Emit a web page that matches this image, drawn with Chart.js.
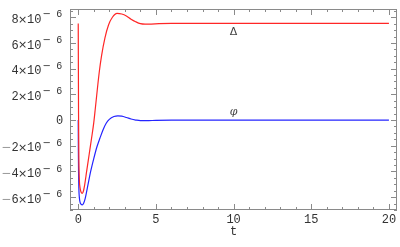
<!DOCTYPE html>
<html>
<head>
<meta charset="utf-8">
<script src="https://cdn.jsdelivr.net/npm/chart.js@4"></script>
<style>
html,body{margin:0;padding:0;background:#fff;}
#wrap{width:400px;height:247px;}
</style>
</head>
<body>
<div id="wrap"><canvas id="chart" width="400" height="247"></canvas></div>
<script>
// values are in units of 10^-6
const tDelta = [0,0.01,0.02,0.04,0.07,0.12,0.18,0.26,0.34,0.42,0.54,0.7,0.86,1.0,1.1,1.35,1.5,1.72,1.95,2.2,2.5,2.8,3.1,3.4,3.7,4.0,4.3,4.7,5.2,6,8,12,20];
const delta = [7.52,4.0,0.5,-3.0,-4.6,-5.3,-5.6,-5.7,-5.5,-5.0,-4.0,-2.7,-1.4,-0.2,0.9,3.7,5.0,6.4,7.4,8.0,8.3,8.25,8.1,7.85,7.65,7.5,7.46,7.47,7.5,7.52,7.52,7.52,7.52];

const tPhi = [0,0.01,0.02,0.04,0.07,0.12,0.18,0.26,0.34,0.45,0.6,0.8,1.0,1.2,1.4,1.6,1.8,2.0,2.3,2.55,2.8,3.1,3.4,3.7,4.0,4.4,5.0,6,8,12,20];
const phi = [0,-2.5,-4.0,-5.3,-6.0,-6.4,-6.55,-6.6,-6.5,-6.1,-5.2,-4.0,-3.0,-2.1,-1.4,-0.75,-0.25,0.05,0.27,0.33,0.3,0.2,0.08,0.0,-0.05,-0.05,-0.02,0,0,0,0];

const xTicks = [0,5,10,15,20];
const yTicks = [-6,-4,-2,0,2,4,6,8];
const seriesNames = ["Δ","φ"];
const seriesColors = ["#ff2626","#2424ff"];
const axisTitle = "t";

const labelSpots = [[10,6.87],[10,0.65]];

const frame = {
    id:"frame",
    afterDraw(chart){
        const ctx = chart.ctx;
        const a = chart.chartArea;
        const xs = chart.scales.x;
        const ys = chart.scales.y;

        ctx.save();
        ctx.strokeStyle = "#8a8a8a";
        ctx.lineWidth = 1;
        ctx.strokeRect(a.left+0.5, a.top+0.5, a.right-a.left-1, a.bottom-a.top-1);

        ctx.beginPath();
        for(let v = 0; v <= 20; v++){
            const len = xTicks.includes(v) ? 6 : 3;
            const px = Math.round(xs.getPixelForValue(v))+0.5;
            ctx.moveTo(px, a.bottom);
            ctx.lineTo(px, a.bottom-len);
            ctx.moveTo(px, a.top);
            ctx.lineTo(px, a.top+len);
        }
        for(let k = -14; k <= 17; k++){
            const v = k/2;
            const len = yTicks.includes(v) ? 6 : 3;
            const py = Math.round(ys.getPixelForValue(v))+0.5;
            ctx.moveTo(a.left, py);
            ctx.lineTo(a.left+len, py);
            ctx.moveTo(a.right, py);
            ctx.lineTo(a.right-len, py);
        }
        ctx.stroke();

        ctx.fillStyle = "#333";
        ctx.textBaseline = "middle";
        ctx.textAlign = "center";
        ctx.font = "12px 'Liberation Mono'";
        xTicks.forEach(v => {
            ctx.fillText(String(v), xs.getPixelForValue(v), 220);
        });
        ctx.fillText(axisTitle, xs.getPixelForValue(10), 231.5);

        yTicks.forEach(v => {
            const py = ys.getPixelForValue(v);
            if(v === 0){
                ctx.font = "12px 'Liberation Mono'";
                ctx.fillText("0", 59.5, py+0.5);
                return;
            }
            const my = py+2.5;
            if(v < 0){
                ctx.fillStyle = "#999";
                ctx.font = "12px 'DejaVu Sans'";
                ctx.fillText("−", 6.3, my);
                ctx.fillStyle = "#333";
            }
            ctx.font = "12px 'Liberation Mono'";
            ctx.fillText(String(Math.abs(v)), 15, my);
            ctx.font = "11px 'DejaVu Sans'";
            ctx.fillText("×", 22.5, my);
            ctx.font = "12px 'Liberation Mono'";
            ctx.fillText("10", 34.2, my);
            ctx.font = "10px 'DejaVu Sans'";
            ctx.fillText("−", 46.7, py-2.5);
            ctx.font = "10px 'Liberation Mono'";
            ctx.fillText("6", 59.2, py-2.5);
        });

        ctx.fillStyle = "#444";
        ctx.font = "11px 'DejaVu Sans'";
        ctx.fillText(seriesNames[0], xs.getPixelForValue(labelSpots[0][0]), ys.getPixelForValue(labelSpots[0][1]));
        ctx.font = "italic 11px 'DejaVu Serif'";
        ctx.fillText(seriesNames[1], xs.getPixelForValue(labelSpots[1][0]), ys.getPixelForValue(labelSpots[1][1]));
        ctx.restore();
    }
};

new Chart(document.getElementById("chart"), {
    type:"line",
    data:{
        datasets:[
            {
                label:seriesNames[0],
                data:tDelta.map((t,i) => ({x:t, y:delta[i]})),
                borderColor:seriesColors[0],
                borderWidth:1.2,
                pointRadius:0,
                cubicInterpolationMode:"monotone"
            },
            {
                label:seriesNames[1],
                data:tPhi.map((t,i) => ({x:t, y:phi[i]})),
                borderColor:seriesColors[1],
                borderWidth:1.2,
                pointRadius:0,
                cubicInterpolationMode:"monotone"
            }
        ]
    },
    options:{
        responsive:false,
        animation:false,
        devicePixelRatio:1,
        layout:{padding:{left:70, top:9, right:3, bottom:37}},
        scales:{
            x:{type:"linear", min:-0.53, max:20.52, display:false},
            y:{min:-7.0, max:8.64, display:false}
        },
        plugins:{
            legend:{display:false},
            tooltip:{enabled:false}
        }
    },
    plugins:[frame]
});
</script>
</body>
</html>
